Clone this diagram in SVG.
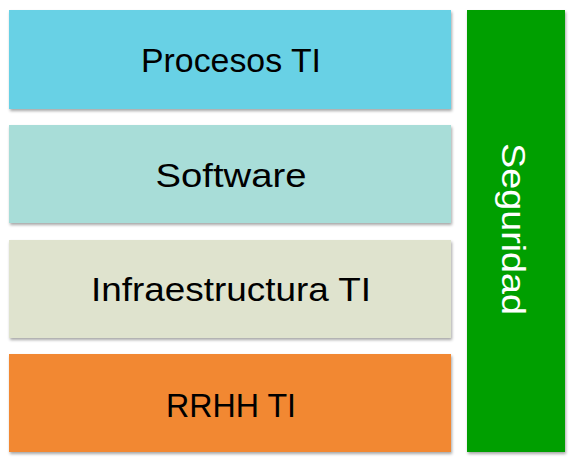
<svg xmlns="http://www.w3.org/2000/svg" width="576" height="462" viewBox="0 0 576 462">
  <style>
    .lbl { font-family: "Liberation Sans", Arial, sans-serif; font-size: 33px; fill: #000; text-anchor: middle; }
    .wl { fill: #fff; }
    .box { filter: url(#sh); }
  </style>
  <defs>
    <filter id="sh" x="-5%" y="-5%" width="115%" height="120%">
      <feDropShadow dx="1" dy="2" stdDeviation="1.5" flood-color="#000" flood-opacity="0.35"/>
    </filter>
  </defs>
  <rect width="576" height="462" fill="#fff"/>
  <g id="procesos">
    <rect class="box" x="9" y="10" width="442" height="99" fill="#67D1E5"/>
    <text class="lbl" x="231" y="72" textLength="180" lengthAdjust="spacingAndGlyphs">Procesos TI</text>
  </g>
  <g id="software">
    <rect class="box" x="9" y="125" width="442" height="98" fill="#A8DDD8"/>
    <text class="lbl" x="231" y="187" textLength="151" lengthAdjust="spacingAndGlyphs">Software</text>
  </g>
  <g id="infraestructura">
    <rect class="box" x="9" y="240" width="442" height="98" fill="#DFE3CE"/>
    <text class="lbl" x="231" y="301" textLength="280" lengthAdjust="spacingAndGlyphs">Infraestructura TI</text>
  </g>
  <g id="rrhh">
    <rect class="box" x="9" y="354" width="442" height="98" fill="#F28832"/>
    <text class="lbl" x="231" y="417" textLength="130" lengthAdjust="spacingAndGlyphs">RRHH TI</text>
  </g>
  <g id="seguridad">
    <rect class="box" x="467" y="10" width="98" height="442" fill="#009F00"/>
    <text class="lbl wl" transform="translate(502 229) rotate(90)" x="0" y="0" textLength="172" lengthAdjust="spacingAndGlyphs">Seguridad</text>
  </g>
  <g id="connectors"></g>
</svg>
